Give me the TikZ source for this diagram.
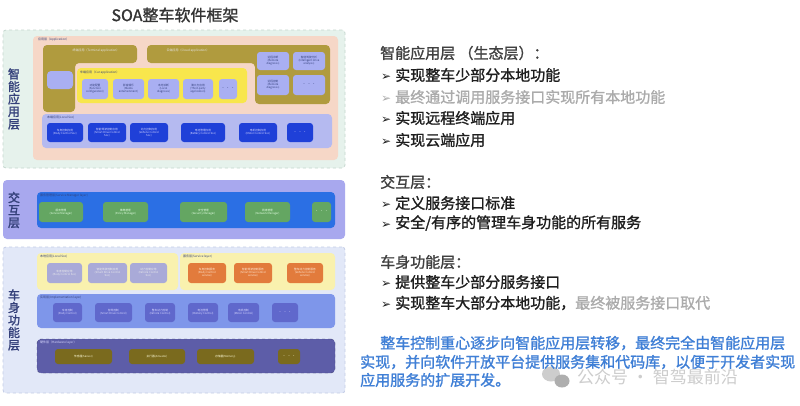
\documentclass[tikz,border=0pt]{standalone}
\usepackage{fontspec}
\setmainfont{Noto Sans CJK SC}
\newfontfamily\cjkb{Noto Sans CJK SC}[FakeBold=1.3]
\newfontfamily\cjkbb{Noto Sans CJK SC}[FakeBold=1.8]
\newfontfamily\dejavu{DejaVu Sans}
\definecolor{mint}{HTML}{E6F2EC}
\definecolor{mintline}{HTML}{C4D6CE}
\definecolor{peach}{HTML}{F6D7C7}
\definecolor{olivebox}{HTML}{B09B3E}
\definecolor{yel}{HTML}{F8E64C}
\definecolor{lav}{HTML}{A9AFF2}
\definecolor{lavbg}{HTML}{B5BAF0}
\definecolor{bluebox}{HTML}{1F40D8}
\definecolor{interbg}{HTML}{A8A8EE}
\definecolor{bluebar}{HTML}{2B6FE4}
\definecolor{greenbox}{HTML}{64A662}
\definecolor{bodybg}{HTML}{E2E8F8}
\definecolor{bodyline}{HTML}{C3CCE6}
\definecolor{lyel}{HTML}{F9F1AE}
\definecolor{greybox}{HTML}{A9AAD8}
\definecolor{orangebox}{HTML}{E27B3C}
\definecolor{implbar}{HTML}{7E96EA}
\definecolor{implbox}{HTML}{6068CC}
\definecolor{hwbar}{HTML}{5D5DA8}
\definecolor{hwbox}{HTML}{7A6A1E}
\definecolor{navy}{HTML}{34407A}
\definecolor{txt}{HTML}{1E1E1E}
\definecolor{greytxt}{HTML}{ABABAB}
\definecolor{bluetxt}{HTML}{3F7FD6}
\definecolor{wm}{HTML}{CDCDCD}
\newcommand{\mybox}[7][]{\node[boxbase,#1,minimum width={(#5-#3)*1pt},minimum height={(#6-#4)*1pt}] (#2) at ({(#3+#5)/2},{(#4+#6)/2}) {#7};}
\newcommand{\bul}{{\dejavu\fontsize{12}{12}\selectfont ➢}\hspace{4pt}}
\tikzset{
  boxbase/.style={inner sep=0pt, outer sep=0pt, rounded corners=3pt, align=center, font=\fontsize{2.7}{3.1}\selectfont},
  tinylbl/.style={anchor=north west, inner sep=0pt, font=\fontsize{3}{3.4}\selectfont},
  vlbl/.style={align=center, inner sep=0pt, text=navy, font=\cjkbb\fontsize{12}{12.5}\selectfont},
  rt/.style={anchor=west, inner sep=0pt, text=txt, font=\cjkb\fontsize{15}{16}\selectfont},
}
\begin{document}
\begin{tikzpicture}[x=1pt,y=-1pt]
\useasboundingbox (0,0) rectangle (800,405);
\fill[white] (0,0) rectangle (800,405);
% title
\node[text=black!80, font=\cjkb\fontsize{16}{16}\selectfont, inner sep=0pt] (title) at (175,15) {SOA整车软件框架};
% ===== smart application layer =====
\mybox[fill=mint, draw=mintline, dashed, line width=0.8pt]{smart}{3}{30}{345}{168}{}
\node[vlbl] (smartlbl) at (14,99) {智\\能\\应\\用\\层};
\mybox[fill=peach, rounded corners=4pt]{app}{33}{36}{338}{160}{}
\node[tinylbl, text=navy] (applbl) at (38,38) {应用层（Application）};
\fill[olivebox, rounded corners=4pt] (43,45) -- (137,45) -- (137,63) -- (75,63) -- (75,112) -- (43,112) -- cycle;
\fill[olivebox, rounded corners=4pt] (147,45) -- (330,45) -- (330,104) -- (255,104) -- (255,63) -- (147,63) -- cycle;
\node[inner sep=0pt, font=\fontsize{3}{3.4}\selectfont, text=white!90!black] (termlbl) at (96,51) {终端应用（Terminal application）};
\node[inner sep=0pt, font=\fontsize{3}{3.4}\selectfont, text=white!90!black] (cloudlbl) at (188,51) {云端应用（Cloud application）};
\mybox[fill=lav, rounded corners=4pt]{termbox}{47}{71}{73}{89}{}
\mybox[fill=yel, rounded corners=4pt]{car}{77}{68}{247}{103}{}
\node[tinylbl, text=navy] (carlbl) at (80,71) {车端应用（Car application）};
\mybox[fill=lav, text=navy]{c1}{82}{79}{108}{99}{功能配置\\(Function\\configuration)}
\mybox[fill=lav, text=navy]{c2}{113}{79}{144}{99}{影音娱乐\\(Media\\entertainment)}
\mybox[fill=lav, text=navy]{c3}{148}{79}{179}{99}{本地诊断\\(Local\\diagnosis)}
\mybox[fill=lav, text=navy]{c4}{183}{79}{213}{99}{第三方应用\\(Third-party\\application)}
\mybox[fill=lav, text=navy, font=\fontsize{4}{4}\selectfont]{c5}{219}{79}{237}{99}{· · ·}
\mybox[fill=lav, text=navy]{r1}{257}{52}{289}{70}{远程诊断\\(Remote\\diagnosis)}
\mybox[fill=lav, text=navy]{r2}{293}{52}{325}{70}{智能驾驶分析\\(Intelligent drive\\analysis)}
\mybox[fill=lav, text=navy]{r3}{257}{75}{289}{95}{远程控制\\(Remote\\diagnosis)}
\mybox[fill=lav, text=navy, font=\fontsize{4}{4}\selectfont]{r4}{293}{75}{325}{95}{· · ·}
\mybox[fill=lavbg, rounded corners=4pt]{localsoc}{42}{114}{332}{148}{}
\node[tinylbl, text=navy] (localsoclbl) at (47,116) {本端应用(Local Soc)};
\mybox[fill=bluebox, text=white!85!blue]{l1}{47}{123}{83}{142}{车身控制应用\\(Body Control Soc)}
\mybox[fill=bluebox, text=white!85!blue]{l2}{88}{123}{126}{142}{智能驾驶控制应用\\(Smart Drive Control\\Soc)}
\mybox[fill=bluebox, text=white!85!blue]{l3}{130}{123}{168}{142}{动力控制应用\\(Vehicle Control\\Soc)}
\mybox[fill=bluebox, text=white!85!blue]{l4}{181}{123}{225}{142}{电池管理应用\\(Battery Control Soc)}
\mybox[fill=bluebox, text=white!85!blue]{l5}{239}{123}{277}{142}{电机控制应用\\(Motor Control Soc)}
\mybox[fill=bluebox, text=white!85!blue, font=\fontsize{4}{4}\selectfont]{l6}{287}{123}{313}{142}{· · ·}
% ===== interaction layer =====
\mybox[fill=interbg, rounded corners=4pt]{inter}{3}{180}{345}{239}{}
\node[vlbl] (interlbl) at (14,210) {交\\互\\层};
\mybox[fill=bluebar, rounded corners=4pt]{svcmgr}{37}{192}{335}{228}{}
\node[tinylbl, text=navy] (svcmgrlbl) at (40,194) {服务管理层(Service Manager layer)};
\mybox[fill=greenbox, text=white!90!green]{g1}{39}{202}{83}{222}{服务管理\\(Service Manager)}
\mybox[fill=greenbox, text=white!90!green]{g2}{103}{202}{148}{222}{策略管理\\(Policy Manager)}
\mybox[fill=greenbox, text=white!90!green]{g3}{180}{202}{227}{222}{安全管理\\(Security Manager)}
\mybox[fill=greenbox, text=white!90!green]{g4}{245}{202}{290}{222}{网络管理\\(Network Manager)}
\mybox[fill=greenbox, text=white!90!green, font=\fontsize{4}{4}\selectfont]{g5}{312}{202}{331}{222}{· · ·}
% ===== body function layer =====
\mybox[fill=bodybg, draw=bodyline, dashed, line width=0.8pt]{body}{3}{247}{345}{393}{}
\node[vlbl] (bodylbl) at (14,320) {车\\身\\功\\能\\层};
\mybox[fill=lyel, rounded corners=4pt]{bl}{37}{253}{178}{290}{}
\mybox[fill=lyel, rounded corners=4pt]{br}{180}{253}{335}{290}{}
\node[tinylbl, text=navy] (bllbl) at (40,255) {本地应用(Local Soc)};
\node[tinylbl, text=navy] (brlbl) at (183,255) {服务层(Service layer)};
\mybox[fill=greybox, text=white!85!gray]{y1}{47}{263}{82}{283}{车身控制应用\\(Body Control Soc)}
\mybox[fill=greybox, text=white!85!gray]{y2}{88}{263}{127}{283}{智能驾驶控制应用\\(Smart Drive Control\\Soc)}
\mybox[fill=greybox, text=white!85!gray]{y3}{130}{263}{167}{283}{动力控制应用\\(Vehicle Control\\Soc)}
\mybox[fill=orangebox, text=white!85!orange]{o1}{188}{263}{226}{283}{车身控制服务\\(Body Control\\service)}
\mybox[fill=orangebox, text=white!85!orange]{o2}{234}{263}{272}{283}{智能驾驶控制服务\\(Smart Drive Control\\service)}
\mybox[fill=orangebox, text=white!85!orange]{o3}{287}{263}{323}{283}{整车动力控制服务\\(Vehicle Control\\service)}
\mybox[fill=implbar, rounded corners=4pt]{impl}{37}{294}{335}{328}{}
\node[tinylbl, text=navy] (impllbl) at (40,296) {实现层(Implementation layer)};
\mybox[fill=implbox, text=white!85!blue]{i1}{53}{303}{82}{322}{车身控制\\(Body Control)}
\mybox[fill=implbox, text=white!85!blue]{i2}{95}{303}{132}{322}{智驾控制\\(Smart Drive Control)}
\mybox[fill=implbox, text=white!85!blue]{i3}{145}{303}{175}{322}{整车动力控制\\(Vehicle Control)}
\mybox[fill=implbox, text=white!85!blue]{i4}{188}{303}{218}{322}{电池管理\\(Battery Control)}
\mybox[fill=implbox, text=white!85!blue]{i5}{228}{303}{259}{322}{电机控制\\(Motor Control)}
\mybox[fill=implbox, text=white!85!blue, font=\fontsize{4}{4}\selectfont]{i6}{272}{303}{298}{322}{· · ·}
\mybox[fill=hwbar, draw=hwbar!70!black, dashed, rounded corners=4pt]{hw}{37}{339}{335}{373}{}
\node[tinylbl, text=white!85!blue] (hwlbl) at (40,341) {硬件层（Hardware layer）};
\mybox[fill=hwbox, text=white!85!yellow]{h1}{55}{349}{112}{364}{传感器(Sensor)}
\mybox[fill=hwbox, text=white!85!yellow]{h2}{129}{349}{185}{364}{执行器(Actuator)}
\mybox[fill=hwbox, text=white!85!yellow]{h3}{197}{349}{254}{364}{存储器(Memory)}
\mybox[fill=hwbox, text=white!85!yellow, font=\fontsize{4}{4}\selectfont]{h4}{278}{349}{300}{364}{· · ·}
% ===== right text =====
\node[rt, text=black!75] (t1) at (380,53) {智能应用层 （生态层）：};
\node[rt] (t2) at (381,75) {\bul 实现整车少部分本地功能};
\node[rt, text=greytxt] (t3) at (381,97) {\bul 最终通过调用服务接口实现所有本地功能};
\node[rt] (t4) at (381,118) {\bul 实现远程终端应用};
\node[rt] (t5) at (381,140) {\bul 实现云端应用};
\node[rt, text=black!75] (t6) at (380,182) {交互层：};
\node[rt] (t7) at (381,203) {\bul 定义服务接口标准};
\node[rt] (t8) at (381,223) {\bul 安全/有序的管理车身功能的所有服务};
\node[rt, text=black!75] (t9) at (380,262) {车身功能层：};
\node[rt] (t10) at (381,282) {\bul 提供整车少部分服务接口};
\node[rt] (t11) at (381,303) {\bul 实现整车大部分本地功能，\textcolor{greytxt}{最终被服务接口取代}};
% watermark (behind the blue paragraph)
\fill[wm] (551,374) ellipse (9pt and 7.5pt);
\fill[wm!85!black] (562,381) ellipse (7.5pt and 6.5pt);
\node[anchor=west, inner sep=0pt, text=wm, font=\fontsize{17}{17}\selectfont] (wmtext) at (577,377) {公众号 · 智驾最前沿};
\node[rt, text=bluetxt] (p1) at (380,343) {整车控制重心逐步向智能应用层转移，最终完全由智能应用层};
\node[rt, text=bluetxt] (p2) at (360,362) {实现，并向软件开放平台提供服务集和代码库，以便于开发者实现};
\node[rt, text=bluetxt] (p3) at (360,380) {应用服务的扩展开发。};
\end{tikzpicture}
\end{document}
